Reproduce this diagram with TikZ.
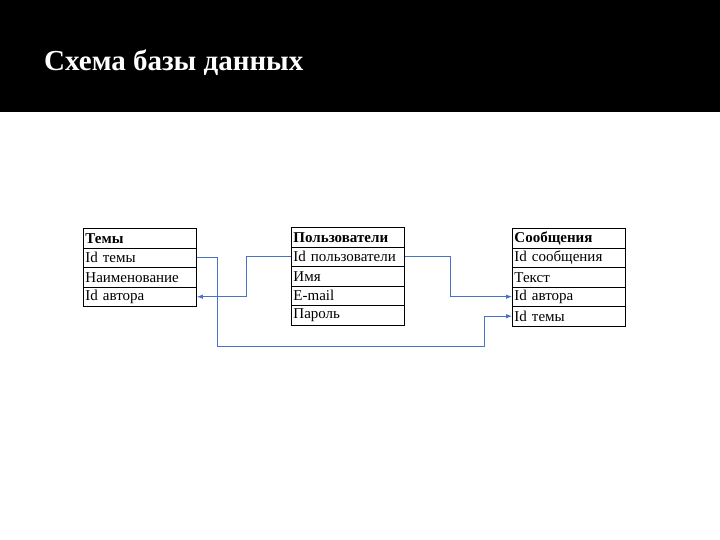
\documentclass[tikz,border=0pt]{standalone}
\usepackage{fontspec}
\setmainfont{Liberation Serif}
\usetikzlibrary{arrows.meta}
\definecolor{lnk}{RGB}{70,115,195}
\tikzset{
  cell/.style={draw=black,line width=0.9pt,anchor=north west,minimum width=113pt,minimum height=19.5pt,text width=109pt,align=left,inner sep=2pt,font=\fontsize{15}{15}\selectfont},
  head/.style={cell,font=\fontsize{15}{15}\selectfont\bfseries},
  link/.style={draw=lnk,line width=0.8pt,-{Latex[length=6pt,width=4.5pt]}},
}
\begin{document}
\begin{tikzpicture}[x=1pt,y=-1pt]
\useasboundingbox (0,0) rectangle (720,540);
\fill[white] (0,0) rectangle (720,540);
\fill[black] (0,0) rectangle (720,112);
\node[anchor=west,text=white,font=\fontsize{29}{32}\selectfont\bfseries,inner sep=0pt] (title) at (44,63) {Схема базы данных};
% table 1
\node[head] (t1h) at (83,228) {Темы};
\node[cell] (t1a) at (83,247.5) {Id темы};
\node[cell] (t1b) at (83,267) {Наименование};
\node[cell] (t1c) at (83,286.5) {Id автора};
% table 2
\node[head] (t2h) at (291,227) {Пользователи};
\node[cell] (t2a) at (291,246.5) {Id пользователи};
\node[cell] (t2b) at (291,266) {Имя};
\node[cell] (t2c) at (291,285.5) {E-mail};
\node[cell] (t2d) at (291,305) {Пароль};
% table 3
\node[head] (t3h) at (512,228) {Сообщения};
\node[cell] (t3a) at (512,247.5) {Id сообщения};
\node[cell] (t3b) at (512,267) {Текст};
\node[cell] (t3c) at (512,286.5) {Id автора};
\node[cell] (t3d) at (512,306) {Id темы};
% links
\coordinate (c1) at (217,346);
\coordinate (c2) at (484,346);
\coordinate (c3) at (246,296);
\coordinate (c4) at (450,296);
\draw[link] (t1a.east) -| (c1) -- (c2) |- (t3d.west);
\draw[link] (t2a.west) -| (t1c.east -| c3) -- (t1c.east);
\draw[link] (t2a.east) -| (t3c.west -| c4) -- (t3c.west);
\end{tikzpicture}
\end{document}
